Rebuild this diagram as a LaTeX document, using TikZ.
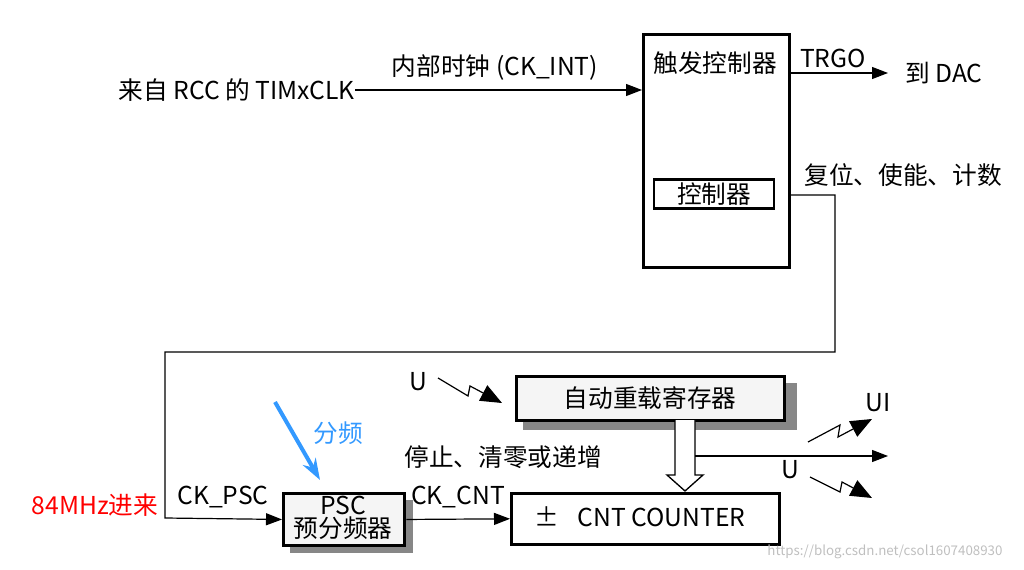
\documentclass[tikz,border=0pt]{standalone}
\usepackage{fontspec}
\setmainfont{Noto Sans CJK SC}
\usetikzlibrary{arrows.meta}
\begin{document}
\begin{tikzpicture}[x=0.75pt,y=-0.75pt,
  txt/.style={font=\fontsize{18.5}{19}\selectfont,inner sep=0pt},
  conn/.style={line width=0.9pt,-{Triangle[length=12pt,width=9pt]}},
  thickbox/.style={draw,line width=2.2pt},
  shadowbox/.style={thickbox,fill=gray!8}]
\useasboundingbox (0,0) rectangle (1024,570);
% trigger controller
\node[thickbox,minimum width=109.5pt,minimum height=175pt,anchor=north west,inner sep=0] (trig) at (642,33) {};
\node[txt] (trigt) at (715,63) {触发控制器};
\node[draw,line width=1.8pt,minimum width=90pt,minimum height=22pt,inner sep=0,txt] (ctrl) at (714,194) {控制器};
\node[txt,anchor=east] (src) at (355,90) {来自 RCC 的 TIMxCLK};
\coordinate (trigin) at (642,90);
\draw[conn] (src.east) -- (trigin);
\node[txt] (ckint) at (495,68) {内部时钟 (CK\_INT)};
\coordinate (trgo1) at (790,73);
\node[txt,anchor=west] (dac) at (905,73) {到 DAC};
\draw[conn] (trgo1) -- (888,73);
\node[txt] (trgo) at (833,58) {TRGO};
\node[txt] (rst) at (903,175) {复位、使能、计数};
% boxes
\fill[gray!65!black!70] (290,500) rectangle (413,553);
\node[shadowbox,minimum width=91pt,minimum height=39pt,inner sep=0,anchor=north west] (psc) at (282,492) {};
\node[txt,align=center,font=\fontsize{18.5}{17}\selectfont] (psct) at (343,518) {PSC\\预分频器};
\node[thickbox,minimum width=201pt,minimum height=38pt,inner sep=0,anchor=north west] (cnt) at (510,492) {};
\node[txt] (cntt) at (640,517) {±\hspace{14pt}CNT COUNTER};
\fill[gray!65!black!70] (523,383) rectangle (797,430);
\node[shadowbox,minimum width=201pt,minimum height=33pt,inner sep=0,anchor=north west] (arr) at (515,375) {};
\node[txt] (arrt) at (650,398) {自动重载寄存器};
% connector from controller to PSC
\draw[conn] (790,195) -- (835,195) -- (835,352) -- (165,352) -- (165,518) -- (psc.west);
\node[txt] (ckpsc) at (223,497) {CK\_PSC};
\node[txt,text=red] (mhz) at (95,505) {84MHz进来};
\draw[conn] (psc.east) -- (cnt.west);
\node[txt] (ckcnt) at (458,497) {CK\_CNT};
% hollow double arrow
\draw[line width=1pt,fill=white] (675,420) -- (675,475) -- (667,475) -- (685,491) -- (703,475) -- (695,475) -- (695,420);
\draw[conn] (695,456) -- (888,456);
\node[txt] (stop) at (503,457) {停止、清零或递增};
% lightning arrows
\tikzset{bolt/.style={line width=0.9pt,-{Triangle[length=16pt,width=13pt]}}}
\draw[bolt] (438,378) -- (468,396) -- (470,386) -- (502,403);
\node[txt] (u1) at (418,382) {U};
\draw[bolt] (808,442) -- (840,425) -- (838,437) -- (872,419);
\node[txt] (ui) at (878,403) {UI};
\draw[bolt] (810,477) -- (840,492) -- (842,482) -- (872,498);
\node[txt] (u2) at (790,470) {U};
% blue
\draw[line width=3pt,draw=blue!50!cyan!80,-{Stealth[length=16pt,width=11pt]}] (275,402) -- (320,480);
\node[txt,text=blue!50!cyan!80] (fp) at (338,433) {分频};
\node[inner sep=0,text=gray!50,font=\fontsize{10}{12}\selectfont] (wm) at (885,552) {https://blog.csdn.net/csol1607408930};
\end{tikzpicture}
\end{document}
